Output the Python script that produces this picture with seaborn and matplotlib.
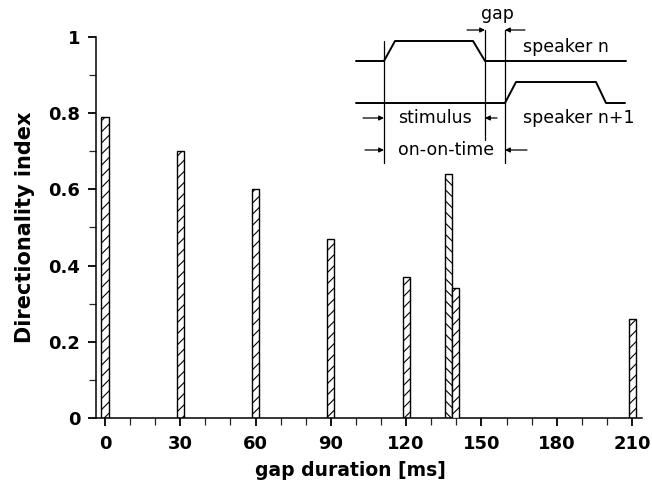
import numpy as np
import pandas as pd
import matplotlib
matplotlib.use("Agg")
import matplotlib.pyplot as plt
from matplotlib.ticker import MultipleLocator
import seaborn as sns

# gap durations [ms] and directionality index
gap_ms = [0, 30, 60, 90, 120, 137.0, 139.6, 210]
direct_idx = [0.79, 0.70, 0.60, 0.47, 0.37, 0.64, 0.34, 0.26]
bar_hatch = ['///', '///', '///', '///', '///', '\\\\\\', '///', '///']

x_ticks = [0, 30, 60, 90, 120, 150, 180, 210]
y_ticks = [0, 0.2, 0.4, 0.6, 0.8, 1.0]
y_ticklabels = ['0', '0.2', '0.4', '0.6', '0.8', '1']

df = pd.DataFrame({'gap': gap_ms, 'di': direct_idx})

sns.set_style('ticks')
plt.rcParams['font.family'] = ['DejaVu Sans']
plt.rcParams['hatch.linewidth'] = 0.8

fig = plt.figure(figsize=(6.52, 4.90), dpi=100)
ax = fig.add_axes([0.1468, 0.147, 0.984 - 0.1468, 0.9245 - 0.147])

sns.barplot(data=df, x='gap', y='di', native_scale=True, errorbar=None,
            width=1.08, color='white', edgecolor='black', linewidth=1.0, ax=ax)
for patch, h in zip(ax.patches, bar_hatch):
    patch.set_hatch(h)
# the short bar at ~140 ms sits on top of the tall one
ax.patches[6].set_zorder(3)

ax.set_xlim(-3.7, 213.8)
ax.set_ylim(0, 1)
ax.set_xticks(x_ticks)
ax.set_xticklabels([str(t) for t in x_ticks])
ax.xaxis.set_minor_locator(MultipleLocator(10))
ax.set_yticks(y_ticks)
ax.set_yticklabels(y_ticklabels)
ax.yaxis.set_minor_locator(MultipleLocator(0.1))

ax.tick_params(axis='both', which='major', direction='out', length=6, width=1.3,
               labelsize=13, colors='black')
ax.tick_params(axis='x', which='major', pad=6)
ax.tick_params(axis='y', which='major', pad=5)
ax.tick_params(axis='both', which='minor', direction='out', length=5, width=0.9)
for lab in ax.get_xticklabels() + ax.get_yticklabels():
    lab.set_fontweight('bold')

sns.despine(ax=ax)
for s in ['left', 'bottom']:
    ax.spines[s].set_linewidth(1.1)
    ax.spines[s].set_color('black')

ax.set_xlabel('gap duration [ms]', fontsize=13.5, fontweight='bold', color='black')
ax.xaxis.set_label_coords(0.466, -0.113)
ax.set_ylabel('Directionality index', fontsize=15, fontweight='bold', color='black',
              labelpad=10)

# stimulus schematic (inset, drawn in pixel coordinates)
sk = fig.add_axes([0, 0, 1, 1], facecolor='none')
sk.set_xlim(0, 652)
sk.set_ylim(490, 0)
sk.axis('off')
lw = 1.4
sk.plot([356, 384, 395, 473, 485, 626], [61, 61, 41, 41, 61, 61], color='black', lw=lw)
sk.plot([356, 505, 516, 596, 606, 625], [103, 103, 82, 82, 103, 103], color='black', lw=lw)
sk.plot([384, 384], [41, 163], color='black', lw=0.9)
sk.plot([485, 485], [30, 140], color='black', lw=0.9)
sk.plot([505, 505], [30, 163], color='black', lw=0.9)

arrow = dict(arrowstyle='-|>', color='black', lw=0.9, mutation_scale=7, shrinkA=0, shrinkB=0)
sk.annotate('', xy=(485, 30), xytext=(467, 30), arrowprops=arrow)
sk.annotate('', xy=(505, 30), xytext=(525, 30), arrowprops=arrow)
sk.annotate('', xy=(384, 118), xytext=(363, 118), arrowprops=arrow)
sk.annotate('', xy=(485, 118), xytext=(497, 118), arrowprops=arrow)
sk.annotate('', xy=(384, 150), xytext=(365, 150), arrowprops=arrow)
sk.annotate('', xy=(505, 150), xytext=(527, 150), arrowprops=arrow)

txt = dict(fontsize=12.5, color='black', va='center')
sk.text(497, 14, 'gap', ha='center', **txt)
sk.text(523, 47, 'speaker n', ha='left', **txt)
sk.text(435, 118, 'stimulus', ha='center', **txt)
sk.text(523, 118, 'speaker n+1', ha='left', **txt)
sk.text(446, 150, 'on-on-time', ha='center', **txt)

fig.savefig('out.png', dpi=100)
